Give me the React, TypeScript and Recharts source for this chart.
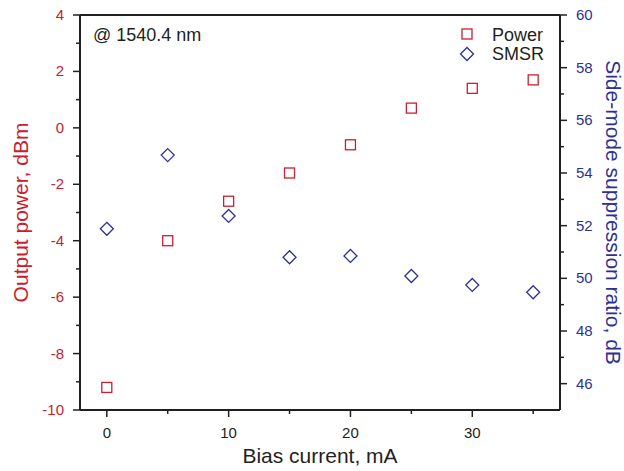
import React from 'react';
import { ComposedChart, Scatter, XAxis, YAxis, ReferenceLine, Label } from 'recharts';

// bias current (mA)
const current = [0, 5, 10, 15, 20, 25, 30, 35];
// output power (dBm)
const power = [-9.2, -4.0, -2.6, -1.6, -0.6, 0.7, 1.4, 1.7];
// side-mode suppression ratio (dB)
const smsr = [51.88, 54.68, 52.37, 50.8, 50.85, 50.09, 49.75, 49.47];

const xTicks = [0, 5, 10, 15, 20, 25, 30, 35];
const leftTicks = [-10, -9, -8, -7, -6, -5, -4, -3, -2, -1, 0, 1, 2, 3, 4];
const rightTicks = [46, 47, 48, 49, 50, 51, 52, 53, 54, 55, 56, 57, 58, 59, 60];

const RED = '#c8202f';
const BLUE = '#2e3192';
const INK = '#231f20';
const FONT = '"Liberation Sans", Arial, Helvetica, sans-serif';

const data = current.map((c, i) => ({ current: c, power: power[i], smsr: smsr[i] }));

const LeftTick = (props: any) => {
  const { x, y, payload } = props;
  const v = payload.value;
  const major = v % 2 === 0;
  return (
    <g>
      <line x1={x} x2={x - (major ? 7 : 4)} y1={y} y2={y} stroke={INK} strokeWidth={1.5} />
      {major && (
        <text x={x - 16} y={y} dy={5} textAnchor="end" fill={RED} fontSize={15} fontFamily={FONT}>
          {v}
        </text>
      )}
    </g>
  );
};

const RightTick = (props: any) => {
  const { x, y, payload } = props;
  const v = payload.value;
  const major = v % 2 === 0;
  return (
    <g>
      <line x1={x} x2={x + (major ? 7 : 4)} y1={y} y2={y} stroke={INK} strokeWidth={1.5} />
      {major && (
        <text x={x + 16} y={y} dy={5} textAnchor="start" fill={BLUE} fontSize={15} fontFamily={FONT}>
          {v}
        </text>
      )}
    </g>
  );
};

const BottomTick = (props: any) => {
  const { x, y, payload } = props;
  const v = payload.value;
  const major = v % 10 === 0;
  return (
    <g>
      <line x1={x} x2={x} y1={y} y2={y + (major ? 7 : 4)} stroke={INK} strokeWidth={1.5} />
      {major && (
        <text x={x} y={y + 28} textAnchor="middle" fill={INK} fontSize={15} fontFamily={FONT}>
          {v}
        </text>
      )}
    </g>
  );
};

const Square = (props: any) => {
  const { cx, cy } = props;
  return <rect x={cx - 5} y={cy - 5} width={10} height={10} fill="none" stroke={RED} strokeWidth={1.3} />;
};

const Diamond = (props: any) => {
  const { cx, cy } = props;
  const r = 6.5;
  return (
    <path
      d={`M${cx},${cy - r} L${cx + r},${cy} L${cx},${cy + r} L${cx - r},${cy} Z`}
      fill="none"
      stroke={BLUE}
      strokeWidth={1.3}
    />
  );
};

export default function App() {
  return (
    <div style={{ position: 'absolute', left: 0, top: 0, width: 624, height: 471, background: '#fff', fontFamily: FONT }}>
      <ComposedChart width={624} height={471} data={data} margin={{ top: 15, right: 0, bottom: 0, left: 0 }}>
        <XAxis
          dataKey="current"
          type="number"
          domain={[-2.2, 37.2]}
          ticks={xTicks}
          interval={0}
          height={61}
          axisLine={{ stroke: INK, strokeWidth: 2 }}
          tickLine={false}
          tickSize={0}
          tickMargin={0}
          tick={<BottomTick />}
          allowDataOverflow
        >
          <Label
            content={(p: any) => (
              <text x={p.viewBox.x + p.viewBox.width / 2} y={p.viewBox.y + 53} textAnchor="middle" fill={INK} fontSize={21} fontFamily={FONT}>
                Bias current, mA
              </text>
            )}
          />
        </XAxis>
        <YAxis
          yAxisId="left"
          orientation="left"
          type="number"
          domain={[-10, 4]}
          ticks={leftTicks}
          interval={0}
          width={80}
          axisLine={{ stroke: INK, strokeWidth: 2 }}
          tickLine={false}
          tickSize={0}
          tickMargin={0}
          tick={<LeftTick />}
          allowDataOverflow
        >
          <Label
            content={(p: any) => {
              const cx = p.viewBox.x + 20;
              const cy = p.viewBox.y + p.viewBox.height / 2;
              return (
                <text x={cx} y={cy} transform={`rotate(-90 ${cx} ${cy})`} textAnchor="middle" dominantBaseline="central" fill={RED} fontSize={21} fontFamily={FONT}>
                  Output power, dBm
                </text>
              );
            }}
          />
        </YAxis>
        <YAxis
          yAxisId="right"
          orientation="right"
          type="number"
          domain={[45, 60]}
          ticks={rightTicks}
          interval={0}
          width={64}
          axisLine={{ stroke: INK, strokeWidth: 2 }}
          tickLine={false}
          tickSize={0}
          tickMargin={0}
          tick={<RightTick />}
          allowDataOverflow
        >
          <Label
            content={(p: any) => {
              const cx = p.viewBox.x + 53;
              const cy = p.viewBox.y + p.viewBox.height / 2;
              return (
                <text x={cx} y={cy} transform={`rotate(90 ${cx} ${cy})`} textAnchor="middle" dominantBaseline="central" fill={BLUE} fontSize={21} fontFamily={FONT}>
                  Side-mode suppression ratio, dB
                </text>
              );
            }}
          />
        </YAxis>
        <ReferenceLine y={4} yAxisId="left" stroke={INK} strokeWidth={2} />
        <Scatter yAxisId="left" dataKey="power" name="Power" shape={<Square />} isAnimationActive={false} />
        <Scatter yAxisId="right" dataKey="smsr" name="SMSR" shape={<Diamond />} isAnimationActive={false} />
      </ComposedChart>
      <svg width={624} height={471} style={{ position: 'absolute', left: 0, top: 0, pointerEvents: 'none' }}>
        <text x={93} y={41} fill={INK} fontSize={18} fontFamily={FONT}>@ 1540.4 nm</text>
        <rect x={462} y={29} width={10} height={10} fill="none" stroke={RED} strokeWidth={1.3} />
        <text x={492} y={41} fill={INK} fontSize={18} fontFamily={FONT}>Power</text>
        <path d="M467,47.5 L473.5,54 L467,60.5 L460.5,54 Z" fill="none" stroke={BLUE} strokeWidth={1.3} />
        <text x={492} y={60} fill={INK} fontSize={18} fontFamily={FONT}>SMSR</text>
      </svg>
    </div>
  );
}
